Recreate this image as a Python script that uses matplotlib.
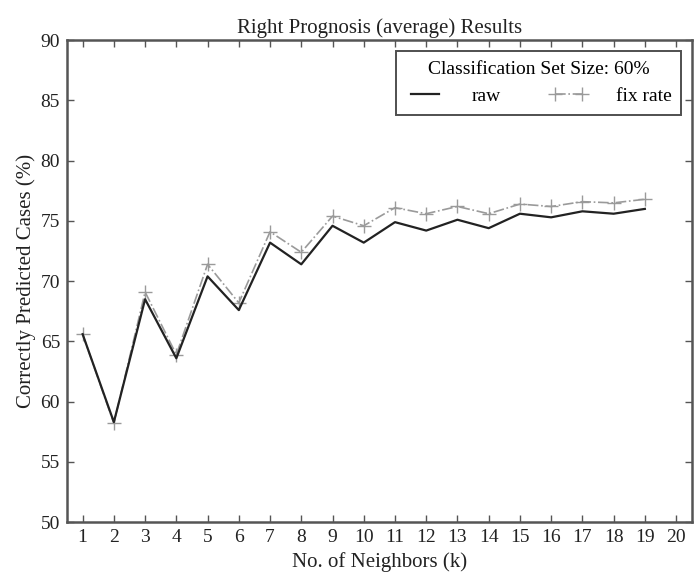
import matplotlib
matplotlib.use("Agg")
import matplotlib.pyplot as plt

# k-NN prediction accuracy vs. number of neighbours
neighbors = list(range(1, 20))
raw = [65.6, 58.3, 68.5, 63.6, 70.4, 67.6, 73.2, 71.4, 74.6, 73.2,
       74.9, 74.2, 75.1, 74.4, 75.6, 75.3, 75.8, 75.6, 76.0]
fix_rate = [65.6, 58.2, 69.1, 63.9, 71.4, 68.2, 74.1, 72.4, 75.4, 74.6,
            76.1, 75.6, 76.2, 75.6, 76.4, 76.2, 76.6, 76.5, 76.8]
x_ticks = list(range(1, 21))
y_ticks = [50, 55, 60, 65, 70, 75, 80, 85, 90]

plt.rcParams['font.family'] = ['Liberation Serif', 'DejaVu Serif']

fig = plt.figure(figsize=(6.98, 5.75), dpi=100)
ax = fig.add_axes([0.096, 0.092, 0.895, 0.838])

ax.plot(neighbors, raw, color='#222222', lw=1.6, label='raw', zorder=3)
ax.plot(neighbors, fix_rate, color='#9a9a9a', lw=1.2, ls='-.',
        marker='+', ms=10, mew=1.0, label='fix rate', zorder=2)

ax.set_xlim(0.5, 20.5)
ax.set_ylim(50, 90)
ax.set_xticks(x_ticks)
ax.set_yticks(y_ticks)
ax.tick_params(direction='in', top=True, right=True, length=5,
               width=1, color='#555555', labelsize=14, pad=5)
for s in ax.spines.values():
    s.set_color('#555555')
    s.set_linewidth(1.8)

ax.set_title('Right Prognosis (average) Results', fontsize=15, color='#222222', pad=5)
ax.set_xlabel('No. of Neighbors (k)', fontsize=15, color='#222222', labelpad=4)
ax.set_ylabel('Correctly Predicted Cases (%)', fontsize=15, color='#222222', labelpad=3)
for lab in ax.get_xticklabels() + ax.get_yticklabels():
    lab.set_color('#222222')

leg = ax.legend(loc='upper right', ncol=2, title='Classification Set Size: 60%',
                fontsize=14, title_fontsize=14, fancybox=False, frameon=True,
                edgecolor='#222222', borderpad=0.5, handlelength=2.0,
                numpoints=2, columnspacing=2.5, handletextpad=1.4,
                borderaxespad=0.55)
leg.get_frame().set_linewidth(1.4)

fig.savefig('out.png', dpi=100)
